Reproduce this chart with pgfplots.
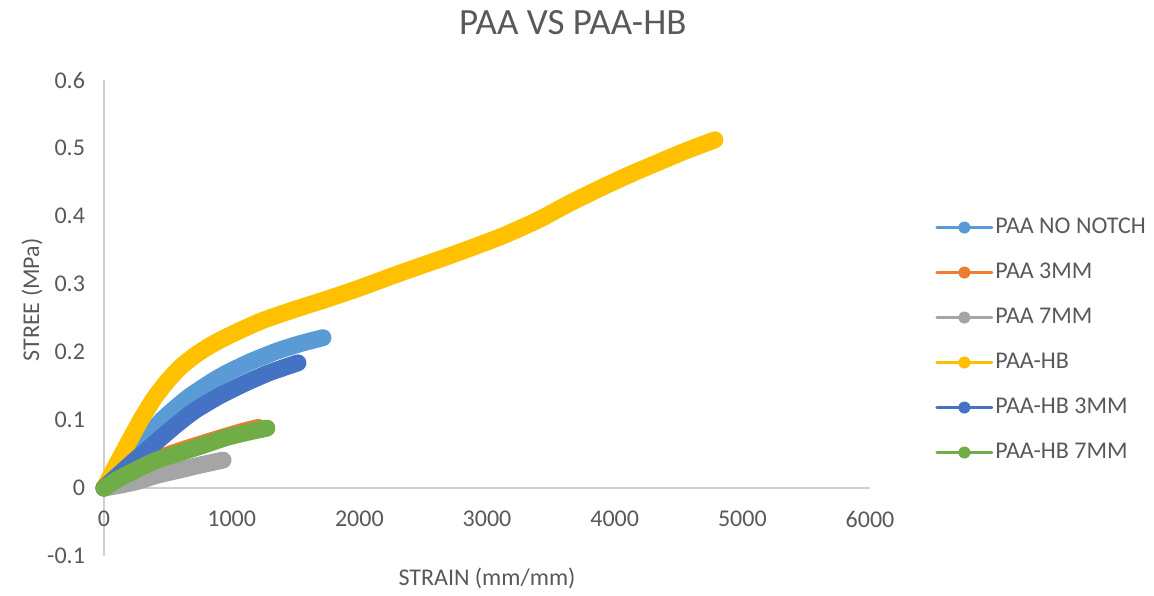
\documentclass[border=0pt]{standalone}
\usepackage{pgfplots}
\pgfplotsset{compat=1.18}
\usepackage{fontspec}
\setmainfont{Carlito}
\definecolor{cLB}{HTML}{5B9BD5}
\definecolor{cOR}{HTML}{ED7D31}
\definecolor{cGR}{HTML}{A5A5A5}
\definecolor{cYE}{HTML}{FFC000}
\definecolor{cDB}{HTML}{4472C4}
\definecolor{cGN}{HTML}{70AD47}
\definecolor{txt}{HTML}{595959}
\definecolor{axl}{HTML}{D0D0D0}
\begin{document}
\begin{tikzpicture}
\path[use as bounding box] (-52pt,-19.5pt) rectangle (525pt,278pt);
\begin{axis}[
  scale only axis, width=383pt, height=238pt,
  xmin=0, xmax=6000, ymin=-0.1, ymax=0.6,
  axis x line=middle, axis y line=left,
  axis line style={-, draw=axl, line width=0.8pt},
  hide obscured x ticks=false, hide obscured y ticks=false,
  xtick={0,1000,...,6000}, ytick={-0.1,0,0.1,0.2,0.3,0.4,0.5,0.6},
  major tick length=0pt,
  tick label style={font=\fontsize{12}{14}\selectfont, text=txt},
  /pgf/number format/assume math mode=true,
  xticklabel style={/pgf/number format/set thousands separator={}, yshift=-8pt},
  yticklabel style={/pgf/number format/fixed, /pgf/number format/precision=1, xshift=-6pt},
  xlabel={STRAIN (mm/mm)}, ylabel={STREE (MPa)},
  label style={font=\fontsize{12}{14}\selectfont, text=txt},
  xlabel style={at={(axis description cs:0.5,-0.046)}, anchor=center},
  ylabel style={at={(axis description cs:-0.094,0.538)}, anchor=center, rotate=0},
  title={PAA VS PAA-HB},
  title style={at={(axis description cs:0.612,1.095)}, anchor=center, font=\fontsize{18.5}{22}\selectfont, text=txt},
  clip=false,
  every axis plot/.append style={line width=8.5pt, line cap=round, line join=round, smooth, tension=0.35},
  legend style={draw=none, fill=none, at={(axis description cs:1.077,0.7245)}, anchor=north west,
    font=\fontsize{12}{14}\selectfont, text=txt, row sep=10.5pt,
    nodes={inner sep=0pt, text height=9pt, text depth=3pt}},
  legend cell align=left,
  legend image code/.code={\draw[#1, line width=1.5pt] (0pt,0pt) -- (27.5pt,0pt); \path[#1, draw=none, fill, line width=0pt] (13.75pt,0pt) circle (3pt);},
]
\addplot[color=cLB] coordinates {(0,0) (100,0.02) (200,0.042) (321,0.07) (454,0.1) (658,0.133) (850,0.157) (971,0.17) (1150,0.186) (1363,0.202) (1550,0.213) (1715,0.221)};
\addlegendentry{\hspace{1pt}PAA NO NOTCH}
\addplot[color=cOR] coordinates {(0,0) (243,0.029) (400,0.042) (580,0.054) (780,0.066) (971,0.077) (1100,0.084) (1210,0.089)};
\addlegendentry{\hspace{1pt}PAA 3MM}
\addplot[color=cGR] coordinates {(0,0) (150,0.005) (266,0.01) (420,0.019) (580,0.026) (760,0.034) (932,0.041)};
\addlegendentry{\hspace{1pt}PAA 7MM}
\addplot[color=cYE] coordinates {(0,0) (100,0.035) (200,0.07) (300,0.104) (400,0.134) (500,0.158) (600,0.178) (720,0.196) (846,0.211) (1000,0.226) (1237,0.246) (1500,0.263) (1750,0.278) (2000,0.294) (2318,0.316) (2700,0.341) (3101,0.369) (3400,0.394) (3650,0.419) (3900,0.442) (4143,0.463) (4534,0.494) (4785,0.512)};
\addlegendentry{\hspace{1pt}PAA-HB}
\addplot[color=cDB] coordinates {(0,0) (130,0.022) (243,0.041) (350,0.058) (454,0.075) (580,0.095) (713,0.114) (900,0.135) (1104,0.154) (1300,0.17) (1519,0.184)};
\addlegendentry{\hspace{1pt}PAA-HB 3MM}
\addplot[color=cGN] coordinates {(0,0) (100,0.012) (243,0.026) (400,0.04) (580,0.051) (780,0.063) (971,0.075) (1150,0.083) (1276,0.088)};
\addlegendentry{\hspace{1pt}PAA-HB 7MM}
\end{axis}
\end{tikzpicture}
\end{document}
